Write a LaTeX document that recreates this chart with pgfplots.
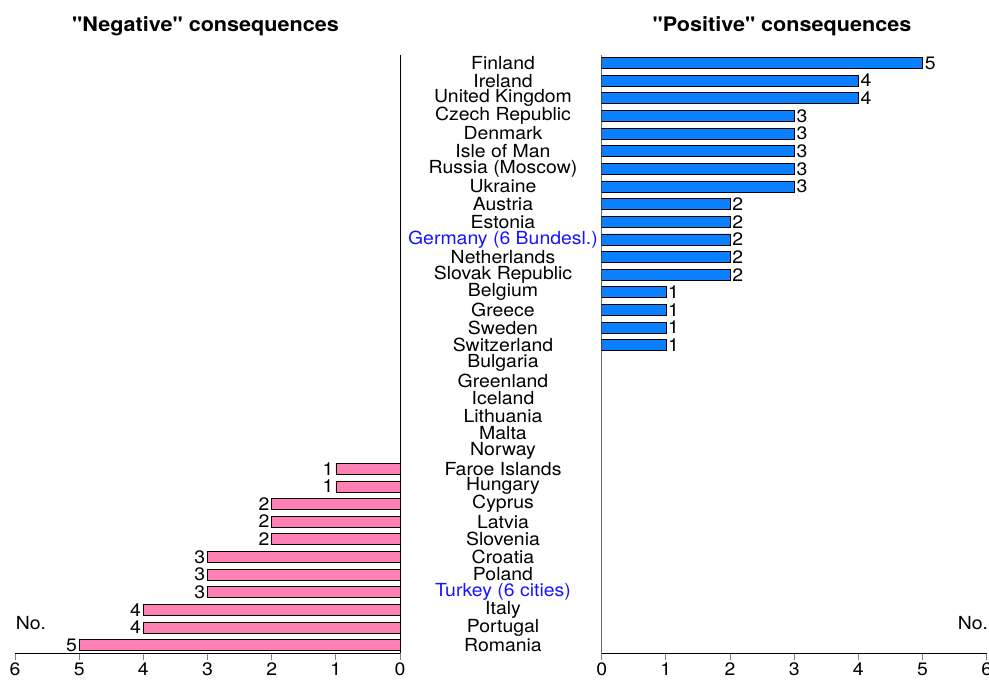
\documentclass[border=0pt]{standalone}
\usepackage{fontspec}
\setmainfont[FakeStretch=1.08, Ligatures=TeXOff]{TeX Gyre Heros}
\usepackage{pgfplots}
\pgfplotsset{compat=1.18}
\definecolor{negpink}{RGB}{255,128,178}
\definecolor{posblue}{RGB}{10,128,255}
\definecolor{labblue}{RGB}{20,20,255}
\pgfplotstableread{
y v
23 1
24 1
25 2
26 2
27 2
28 3
29 3
30 3
31 4
32 4
33 5
}\negdata
\pgfplotstableread{
y v
0 5
1 4
2 4
3 3
4 3
5 3
6 3
7 3
8 2
9 2
10 2
11 2
12 2
13 1
14 1
15 1
16 1
}\posdata
\begin{document}
\begin{tikzpicture}[font=\fontsize{18}{19}\selectfont]
\useasboundingbox (0pt,0pt) rectangle (989pt,681pt);
\pgfplotsset{
  common/.style={
    scale only axis, width=385pt, height=598pt,
    xmin=0, xmax=6, ymin=-0.45, ymax=33.45, y dir=reverse,
    xtick={0,...,6}, tick align=outside, major tick length=7pt,
    /pgf/number format/assume math mode=true,
    tick label style={font=\fontsize{18}{19}\selectfont},
    xticklabel style={yshift=-1.5pt, inner ysep=1pt},
    xbar, bar width=11pt, bar shift=0pt,
    axis x line*=bottom,
    axis line style={-, line width=0.8pt},
    x tick style={line width=0.8pt},
    nodes near coords,
    every node near coord/.append style={font=\fontsize{18}{19}\selectfont, inner sep=2pt},
  }
}
\begin{axis}[common, at={(15pt,28pt)}, anchor=south west,
  x dir=reverse, axis y line*=right, ytick=\empty,
  every node near coord/.append style={anchor=east},
]
\addplot[fill=negpink, draw=black, line width=0.6pt] table[x=v, y=y] {\negdata};
\end{axis}
\begin{axis}[common, at={(601.7pt,28pt)}, anchor=south west,
  axis y line*=left,
  y axis line style={draw=black!60},
  ytick={0,...,33},
  y tick style={draw=none},
  yticklabel style={anchor=center, xshift=-91.7pt},
  yticklabels={Finland, Ireland, United Kingdom, Czech Republic, Denmark, Isle of Man, Russia (Moscow), Ukraine, Austria, Estonia, \textcolor{labblue}{Germany (6 Bundesl.)}, Netherlands, Slovak Republic, Belgium, Greece, Sweden, Switzerland, Bulgaria, Greenland, Iceland, Lithuania, Malta, Norway, Faroe Islands, Hungary, Cyprus, Latvia, Slovenia, Croatia, Poland, \textcolor{labblue}{Turkey (6 cities)}, Italy, Portugal, Romania},
  every node near coord/.append style={anchor=west},
]
\addplot[fill=posblue, draw=black, line width=0.6pt] table[x=v, y=y] {\posdata};
\end{axis}
\node[font=\bfseries\fontsize{20}{21}\selectfont] at (205.5pt,655pt) {"Negative" consequences};
\node[font=\bfseries\fontsize{20}{21}\selectfont] at (782pt,655pt) {"Positive" consequences};
\node at (31pt,58pt) {No.};
\node at (973pt,58pt) {No.};
\end{tikzpicture}
\end{document}
